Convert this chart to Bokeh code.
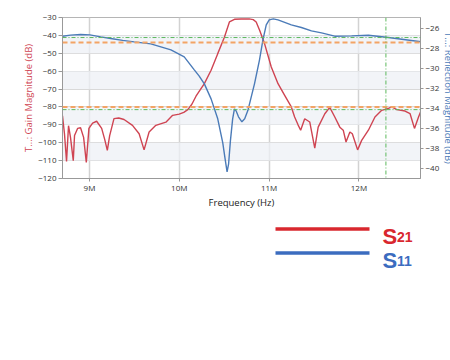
from bokeh.plotting import figure
from bokeh.models import Range1d, LinearAxis, FixedTicker, Span, BoxAnnotation
from bokeh.layouts import column
from bokeh.embed import file_html
from bokeh.resources import INLINE
from bokeh.core.properties import value

# ---- data (frequency in MHz, magnitude in dB) ----
s21_freq = [8.700, 8.722, 8.745, 8.767, 8.789, 8.820, 8.834, 8.868, 8.901, 8.935,
            8.965, 8.994, 9.035, 9.080, 9.136, 9.169, 9.199, 9.225, 9.273, 9.326,
            9.385, 9.479, 9.553, 9.608, 9.664, 9.739, 9.851, 9.926, 9.999, 10.050,
            10.095, 10.140, 10.186, 10.279, 10.354, 10.428, 10.502, 10.558, 10.614,
            10.689, 10.778, 10.823, 10.856, 10.893, 10.949, 11.024, 11.099, 11.173,
            11.247, 11.284, 11.322, 11.351, 11.396, 11.452, 11.508, 11.546, 11.620,
            11.675, 11.731, 11.787, 11.825, 11.856, 11.899, 11.926, 11.985, 12.030,
            12.105, 12.178, 12.253, 12.328, 12.365, 12.421, 12.513, 12.569, 12.618,
            12.663, 12.700]
s21_db = [-85.0, -95.0, -110.5, -90.5, -97.0, -110.0, -96.0, -92.0, -91.6, -97.0,
          -111.0, -92.0, -89.0, -88.0, -92.0, -98.0, -104.3, -96.0, -86.5, -86.2,
          -87.0, -90.3, -95.0, -104.0, -94.0, -90.3, -88.5, -84.7, -84.0, -83.0,
          -81.5, -78.5, -74.0, -67.0, -59.5, -50.2, -41.0, -32.5, -31.0,
          -30.8, -30.8, -31.2, -32.5, -37.0, -44.6, -57.7, -67.0, -73.5,
          -80.0, -85.6, -90.0, -93.0, -86.6, -88.4, -103.0, -91.3, -83.8,
          -80.2, -85.6, -91.3, -93.0, -99.6, -94.0, -95.0, -104.0, -98.7,
          -93.0, -85.6, -81.9, -80.8, -80.0, -81.5, -82.3, -83.8, -92.0,
          -85.6, -81.0]

s11_freq = [8.700, 8.789, 8.901, 9.005, 9.125, 9.236, 9.370, 9.497, 9.683, 9.795,
            9.907, 10.055, 10.167, 10.220, 10.279, 10.354, 10.428, 10.484, 10.510,
            10.532, 10.549, 10.569, 10.594, 10.614, 10.632, 10.659, 10.697, 10.728,
            10.764, 10.801, 10.837, 10.893, 10.931, 10.968, 11.001, 11.046, 11.099,
            11.247, 11.359, 11.471, 11.583, 11.731, 11.918, 12.105, 12.328, 12.477,
            12.700]
s11_db = [-26.73, -26.62, -26.56, -26.60, -26.80, -26.96, -27.15, -27.30, -27.50, -27.80,
          -28.10, -28.80, -30.10, -30.70, -31.50, -33.00, -35.00, -37.40, -39.00,
          -40.30, -39.50, -37.20, -35.00, -34.00, -34.20, -34.80, -35.30, -35.00,
          -34.15, -32.80, -31.50, -29.10, -27.10, -25.60, -25.10, -25.00, -25.10,
          -25.60, -25.86, -26.20, -26.40, -26.73, -26.70, -26.63, -26.86, -27.03,
          -27.30]

x_ticks = [9, 10, 11, 12]
x_tick_labels = ["9M", "10M", "11M", "12M"]
left_ticks = [-30, -40, -50, -60, -70, -80, -90, -100, -110, -120]
right_ticks = [-26, -28, -30, -32, -34, -36, -38, -40]
shaded_bands = [(-50, -40), (-70, -60), (-90, -80), (-110, -100)]
limit_orange = [-44.0, -80.0]      # left-axis dB
limit_green = [-41.2, -81.5]       # left-axis dB
marker_freq = [12.3]               # MHz

series_names = ["S", "S"]
series_subs = ["21", "11"]

RED = "#cf4452"
BLUE = "#4b7bb8"
FONT = "Open Sans"

p = figure(frame_width=358, frame_height=161, output_backend="svg", toolbar_location=None,
           x_range=Range1d(8.70, 12.685), y_range=Range1d(-120, -30),
           min_border_left=62, min_border_right=20, min_border_top=17, min_border_bottom=20)
p.extra_y_ranges = {"refl": Range1d(-40.97, -24.86)}

p.background_fill_color = "white"
p.border_fill_color = "white"
p.outline_line_color = "#b5b5b5"

# axes
p.xaxis.ticker = FixedTicker(ticks=x_ticks)
p.xaxis.major_label_overrides = {t: l for t, l in zip(x_ticks, x_tick_labels)}
p.xaxis.axis_label = "Frequency (Hz)"
p.yaxis.ticker = FixedTicker(ticks=left_ticks)
p.yaxis.axis_label = "T...: Gain Magnitude (dB)"
p.yaxis.axis_label_text_color = RED

rax = LinearAxis(y_range_name="refl", ticker=FixedTicker(ticks=right_ticks),
                 axis_label="T...: Reflection Magnitude (dB)")
p.add_layout(rax, "right")
rax.axis_label_text_color = BLUE

for ax in [p.xaxis[0], p.yaxis[0], rax]:
    ax.major_label_text_font = FONT
    ax.major_label_text_font_size = "8px"
    ax.major_label_text_color = "#333333"
    ax.axis_label_text_font = FONT
    ax.axis_label_text_font_size = "9.5px"
    ax.axis_label_text_font_style = "normal"
    ax.axis_line_color = "#999999"
    ax.major_tick_line_color = "#999999"
    ax.major_tick_out = 4
    ax.major_tick_in = 0
    ax.minor_tick_line_color = None
    ax.major_label_standoff = 2
    ax.axis_label_standoff = 1
p.xaxis.axis_label_text_color = "#222222"
p.xaxis.major_tick_out = 3
p.xaxis.major_label_standoff = 0
p.xaxis.axis_label_standoff = 0
p.yaxis.axis_label_standoff = 0
rax.axis_label_standoff = 0
rax.major_tick_out = 3

# grid
p.ygrid.ticker = FixedTicker(ticks=left_ticks)
p.ygrid.grid_line_color = "#d9d9d9"
p.xgrid.ticker = FixedTicker(ticks=x_ticks)
p.xgrid.grid_line_color = "#d2d2d2"
p.xgrid.grid_line_width = 1.5
for lo, hi in shaded_bands:
    p.add_layout(BoxAnnotation(bottom=lo, top=hi, fill_color="#edf0f5", fill_alpha=0.75,
                               line_color=None, level="underlay"))

# reference lines
for v in limit_orange:
    p.add_layout(Span(location=v, dimension="width", line_color="#f3a465",
                      line_width=2, line_dash="5 3"))
for v in limit_green:
    p.add_layout(Span(location=v, dimension="width", line_color="#5cb85c",
                      line_width=1, line_dash="4 2 1 2"))
for v in marker_freq:
    p.add_layout(Span(location=v, dimension="height", line_color="#5cb85c",
                      line_width=1, line_dash="4 2 1 2"))

p.line(s21_freq, s21_db, line_color=RED, line_width=1.4)
p.line(s11_freq, s11_db, line_color=BLUE, line_width=1.4, y_range_name="refl")

# legend figure (frame aligned with the chart frame; x data = page pixels)
lg = figure(frame_width=358, frame_height=148, output_backend="svg", toolbar_location=None,
            x_range=Range1d(62, 420), y_range=Range1d(148, 0),
            min_border_left=62, min_border_right=20, min_border_top=0, min_border_bottom=0)
lg.axis.visible = False
lg.grid.visible = False
lg.outline_line_color = None
lg.background_fill_color = "white"
lg.border_fill_color = "white"

leg_colors = ["#d9272e", "#3b6cbf"]
leg_y = [17.5, 41.5]
leg_base = [25.0, 49.0]
lg.segment(x0=[275, 275], y0=leg_y, x1=[369, 369], y1=leg_y, line_color=leg_colors, line_width=3.5)
lg.text(x=[382, 382], y=leg_base, text=series_names, text_color=leg_colors,
        text_font=value("Liberation Sans"), text_font_size="22px", text_font_style="bold",
        text_baseline="alphabetic", text_align="left")
lg.text(x=[396.5, 396.5], y=leg_base, text=series_subs, text_color=leg_colors,
        text_font=value("Liberation Sans"), text_font_size="14px", text_font_style="bold",
        text_baseline="alphabetic", text_align="left")

layout = column(p, lg, spacing=0)
open("out.html", "w").write(file_html(layout, INLINE))
